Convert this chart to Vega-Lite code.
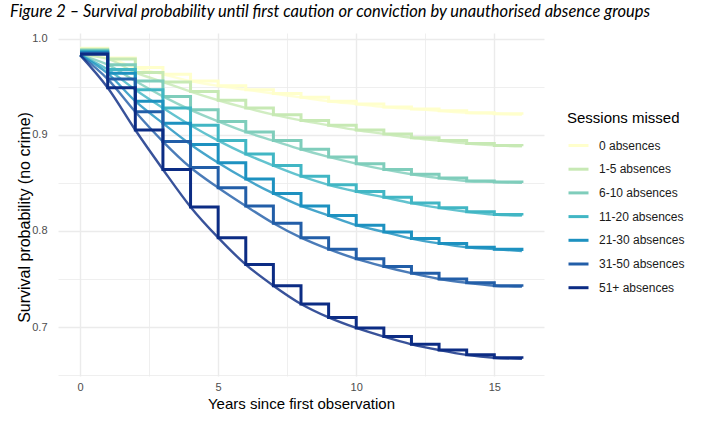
{
  "$schema": "https://vega.github.io/schema/vega-lite/v6.json",
  "description": "Survival probability until first caution or conviction, by sessions missed (step estimate and smoothed fit).",
  "autosize": "none",
  "width": 486,
  "height": 343,
  "padding": {"left": 58, "top": 33, "right": 168, "bottom": 50},
  "background": "white",
  "title": {
    "text": "Figure 2 – Survival probability until first caution or conviction by unauthorised absence groups",
    "font": "Lato",
    "fontStyle": "italic",
    "fontWeight": "normal",
    "fontSize": 16.5,
    "color": "#000000",
    "anchor": "start",
    "frame": "group",
    "dx": -48,
    "offset": 12
  },
  "data": {
    "values": [
      {"t": 0, "k": "step", "0 absences": 0.990, "1-5 absences": 0.989, "6-10 absences": 0.988, "11-20 absences": 0.987, "21-30 absences": 0.986, "31-50 absences": 0.985, "51+ absences": 0.984},
      {"t": 0, "k": "fit", "0 absences": 0.983, "1-5 absences": 0.983, "6-10 absences": 0.983, "11-20 absences": 0.983, "21-30 absences": 0.983, "31-50 absences": 0.983, "51+ absences": 0.983},
      {"t": 1, "k": "both", "0 absences": 0.980, "1-5 absences": 0.979, "6-10 absences": 0.973, "11-20 absences": 0.968, "21-30 absences": 0.964, "31-50 absences": 0.958, "51+ absences": 0.949},
      {"t": 2, "k": "both", "0 absences": 0.970, "1-5 absences": 0.965, "6-10 absences": 0.956, "11-20 absences": 0.947, "21-30 absences": 0.935, "31-50 absences": 0.924, "51+ absences": 0.905},
      {"t": 3, "k": "both", "0 absences": 0.963, "1-5 absences": 0.955, "6-10 absences": 0.940, "11-20 absences": 0.928, "21-30 absences": 0.912, "31-50 absences": 0.893, "51+ absences": 0.864},
      {"t": 4, "k": "both", "0 absences": 0.956, "1-5 absences": 0.945, "6-10 absences": 0.926, "11-20 absences": 0.910, "21-30 absences": 0.890, "31-50 absences": 0.866, "51+ absences": 0.825},
      {"t": 5, "k": "both", "0 absences": 0.951, "1-5 absences": 0.936, "6-10 absences": 0.914, "11-20 absences": 0.894, "21-30 absences": 0.871, "31-50 absences": 0.845, "51+ absences": 0.793},
      {"t": 6, "k": "both", "0 absences": 0.947, "1-5 absences": 0.928, "6-10 absences": 0.903, "11-20 absences": 0.880, "21-30 absences": 0.854, "31-50 absences": 0.826, "51+ absences": 0.765},
      {"t": 7, "k": "both", "0 absences": 0.943, "1-5 absences": 0.921, "6-10 absences": 0.894, "11-20 absences": 0.868, "21-30 absences": 0.839, "31-50 absences": 0.808, "51+ absences": 0.743},
      {"t": 8, "k": "both", "0 absences": 0.939, "1-5 absences": 0.915, "6-10 absences": 0.885, "11-20 absences": 0.857, "21-30 absences": 0.826, "31-50 absences": 0.793, "51+ absences": 0.724},
      {"t": 9, "k": "both", "0 absences": 0.935, "1-5 absences": 0.910, "6-10 absences": 0.877, "11-20 absences": 0.848, "21-30 absences": 0.816, "31-50 absences": 0.781, "51+ absences": 0.710},
      {"t": 10, "k": "both", "0 absences": 0.932, "1-5 absences": 0.905, "6-10 absences": 0.870, "11-20 absences": 0.841, "21-30 absences": 0.806, "31-50 absences": 0.771, "51+ absences": 0.699},
      {"t": 11, "k": "both", "0 absences": 0.929, "1-5 absences": 0.901, "6-10 absences": 0.864, "11-20 absences": 0.835, "21-30 absences": 0.799, "31-50 absences": 0.763, "51+ absences": 0.690},
      {"t": 12, "k": "both", "0 absences": 0.927, "1-5 absences": 0.897, "6-10 absences": 0.859, "11-20 absences": 0.829, "21-30 absences": 0.792, "31-50 absences": 0.756, "51+ absences": 0.682},
      {"t": 13, "k": "both", "0 absences": 0.925, "1-5 absences": 0.894, "6-10 absences": 0.855, "11-20 absences": 0.824, "21-30 absences": 0.787, "31-50 absences": 0.750, "51+ absences": 0.676},
      {"t": 14, "k": "both", "0 absences": 0.923, "1-5 absences": 0.891, "6-10 absences": 0.852, "11-20 absences": 0.820, "21-30 absences": 0.783, "31-50 absences": 0.746, "51+ absences": 0.671},
      {"t": 15, "k": "both", "0 absences": 0.922, "1-5 absences": 0.889, "6-10 absences": 0.851, "11-20 absences": 0.817, "21-30 absences": 0.781, "31-50 absences": 0.743, "51+ absences": 0.668},
      {"t": 16, "k": "both", "0 absences": 0.921, "1-5 absences": 0.888, "6-10 absences": 0.850, "11-20 absences": 0.816, "21-30 absences": 0.779, "31-50 absences": 0.742, "51+ absences": 0.667}
    ]
  },
  "transform": [
    {"fold": ["0 absences", "1-5 absences", "6-10 absences", "11-20 absences", "21-30 absences", "31-50 absences", "51+ absences"], "as": ["group", "surv"]}
  ],
  "encoding": {
    "x": {
      "field": "t",
      "type": "quantitative",
      "scale": {"domain": [-0.8, 16.8], "nice": false, "zero": false},
      "axis": {
        "title": "Years since first observation",
        "values": [0, 2.5, 5, 7.5, 10, 12.5, 15],
        "labelExpr": "datum.value % 5 === 0 ? datum.label : ''",
        "gridWidth": {"condition": {"test": "datum.value % 5 !== 0", "value": 0.8}, "value": 1.4},
        "labelPadding": 5,
        "titleY": 32,
        "titleBaseline": "alphabetic"
      }
    },
    "y": {
      "field": "surv",
      "type": "quantitative",
      "scale": {"domain": [0.649, 1.006], "nice": false, "zero": false},
      "axis": {
        "title": "Survival probability (no crime)",
        "values": [0.65, 0.7, 0.75, 0.8, 0.85, 0.9, 0.95, 1.0],
        "labelExpr": "round(datum.value * 20) % 2 === 0 ? format(datum.value, '.1f') : ''",
        "gridWidth": {"condition": {"test": "round(datum.value * 20) % 2 === 1", "value": 0.8}, "value": 1.4},
        "labelPadding": 11,
        "titleX": -34,
        "titleY": 184,
        "titleBaseline": "middle",
        "titleFontSize": 16
      }
    },
    "stroke": {
      "field": "group",
      "type": "nominal",
      "scale": {
        "domain": ["0 absences", "1-5 absences", "6-10 absences", "11-20 absences", "21-30 absences", "31-50 absences", "51+ absences"],
        "range": ["#ffffcc", "#c7e9b4", "#7fcdbb", "#41b6c4", "#1d91c0", "#225ea8", "#0c2c84"]
      },
      "legend": {
        "title": "Sessions missed",
        "orient": "none",
        "legendX": 509,
        "legendY": 78,
        "padding": 0,
        "symbolType": "stroke",
        "symbolSize": 400,
        "symbolStrokeWidth": 3,
        "rowPadding": 5.7,
        "labelOffset": 9,
        "titlePadding": 8
      }
    }
  },
  "layer": [
    {
      "transform": [{"filter": "datum.k !== 'step'"}],
      "mark": {"type": "line", "interpolate": "monotone", "strokeWidth": 2.4, "strokeOpacity": 0.82}
    },
    {
      "transform": [{"filter": "datum.k !== 'fit'"}],
      "mark": {"type": "line", "interpolate": "step-after", "strokeWidth": 3, "strokeJoin": "miter"}
    }
  ],
  "config": {
    "font": "Liberation Sans",
    "view": {"stroke": null},
    "axis": {
      "domain": false,
      "ticks": false,
      "grid": true,
      "gridColor": "#ebebeb",
      "labelColor": "#4d4d4d",
      "labelFontSize": 11,
      "labelFont": "Liberation Sans",
      "titleFont": "Liberation Sans",
      "titleFontSize": 15,
      "titleFontWeight": "normal",
      "titleColor": "#000000"
    },
    "legend": {
      "titleFont": "Liberation Sans",
      "titleFontSize": 15,
      "titleFontWeight": "normal",
      "titleColor": "#000000",
      "labelFont": "Liberation Sans",
      "labelFontSize": 12,
      "labelColor": "#1a1a1a"
    }
  }
}
